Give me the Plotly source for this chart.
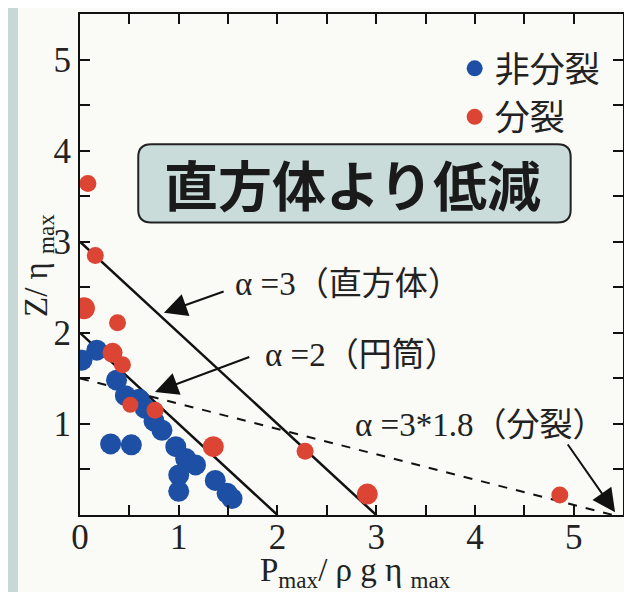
import plotly.graph_objects as go

# ---- data ----
blue_x = [0.02, 0.17, 0.37, 0.46, 0.60, 0.66, 0.75, 0.83, 0.31, 0.52, 0.97, 1.07, 1.17, 1.00, 1.00, 1.37, 1.49, 1.54]
blue_y = [1.70, 1.81, 1.48, 1.31, 1.27, 1.17, 1.03, 0.93, 0.78, 0.77, 0.75, 0.62, 0.55, 0.44, 0.26, 0.38, 0.24, 0.18]

red_x = [0.08, 0.155, 0.04, 0.38, 0.33, 0.43, 0.51, 0.76, 1.35, 2.28, 2.91, 4.86]
red_y = [3.64, 2.85, 2.27, 2.11, 1.78, 1.65, 1.21, 1.15, 0.75, 0.70, 0.23, 0.22]

line3_x = [0, 3]
line3_y = [3, 0]
line2_x = [0, 2]
line2_y = [2, 0]
line54_x = [0, 5.4]
line54_y = [1.5, 0]

x_ticks = [0, 1, 2, 3, 4, 5]
y_ticks = [0, 1, 2, 3, 4, 5]
y_ticklabels = ["", "1", "2", "3", "4", "5"]

legend_names = ["非分裂", "分裂"]

# ---- styles ----
BLUE = "#1d4fa5"
RED = "#dc4433"
red_sizes = [17, 17, 22, 17, 20, 17, 16, 17, 21, 17, 21, 17]
SERIF = "Liberation Serif, Times New Roman, Noto Sans CJK JP, serif"
CJK = "Noto Sans CJK JP, sans-serif"

# page has an 8px body margin: figure sits at (8, 8) in the window
W, H = 624, 584
ML, MR, MT, MB = 72, 9, 6, 77
PW, PH = W - ML - MR, H - MT - MB  # 543 x 501

fig = go.Figure()

fig.add_trace(go.Scatter(x=line3_x, y=line3_y, mode="lines",
                         line=dict(color="#111", width=2.5), showlegend=False, hoverinfo="skip"))
fig.add_trace(go.Scatter(x=line2_x, y=line2_y, mode="lines",
                         line=dict(color="#111", width=2.5), showlegend=False, hoverinfo="skip"))
fig.add_trace(go.Scatter(x=line54_x, y=line54_y, mode="lines",
                         line=dict(color="#111", width=2, dash="dash"), showlegend=False, hoverinfo="skip"))

fig.add_trace(go.Scatter(x=blue_x, y=blue_y, mode="markers", name=legend_names[0],
                         marker=dict(color=BLUE, size=21, opacity=1, line=dict(width=0))))
fig.add_trace(go.Scatter(x=red_x, y=red_y, mode="markers", name=legend_names[1],
                         marker=dict(color=RED, size=red_sizes, opacity=1, line=dict(width=0))))

# rounded box
x0, x1, y0, y1 = 0.59, 4.97, 3.21, 4.07
rx, ry = 0.13, 0.14
path = (f"M {x0+rx},{y1} L {x1-rx},{y1} Q {x1},{y1} {x1},{y1-ry} "
        f"L {x1},{y0+ry} Q {x1},{y0} {x1-rx},{y0} L {x0+rx},{y0} "
        f"Q {x0},{y0} {x0},{y0+ry} L {x0},{y1-ry} Q {x0},{y1} {x0+rx},{y1} Z")
fig.add_shape(type="path", path=path, xref="x", yref="y",
              fillcolor="#c9dcda", line=dict(color="#222", width=2), layer="above")

# left teal strip of the scan
fig.add_shape(type="rect", xref="paper", yref="paper", x0=-ML / PW, x1=-(ML - 10) / PW,
              y0=-MB / PH, y1=1 + MT / PH,
              fillcolor="#c8d8d4", line=dict(width=0), layer="below")

ann = []
ann.append(dict(x=2.76, y=3.64, xref="x", yref="y", text="<b>直方体より低減</b>", showarrow=False,
                font=dict(family=CJK, size=54, color="#1a1a1a", weight=900)))
# arrows
for tip, tail in [((0.85, 2.22), (1.47, 2.46)), ((0.76, 1.35), (1.73, 1.74)), ((5.42, 0.03), (4.93, 0.79))]:
    ann.append(dict(x=tip[0], y=tip[1], ax=tail[0], ay=tail[1], xref="x", yref="y", axref="x", ayref="y",
                    text="", showarrow=True, arrowhead=2, arrowsize=2.3, arrowwidth=2, arrowcolor="#111"))
ann.append(dict(x=1.55, y=2.54, xref="x", yref="y", text="α =3（直方体）", showarrow=False, xanchor="left",
                font=dict(family=SERIF, size=33, color="#222")))
ann.append(dict(x=1.85, y=1.76, xref="x", yref="y", text="α =2（円筒）", showarrow=False, xanchor="left",
                font=dict(family=SERIF, size=33, color="#222")))
ann.append(dict(x=2.77, y=0.99, xref="x", yref="y", text="α =3*1.8（分裂）", showarrow=False, xanchor="left",
                font=dict(family=SERIF, size=33, color="#222")))
# axis titles (window px: x-title centre (355, 572), y-title centre (38, 266))
ann.append(dict(x=(355 - 80) / PW, y=-(572 - 515) / PH, xref="paper", yref="paper",
                xanchor="center", yanchor="middle",
                text="P<sub>max</sub>/ ρ g η <sub>max</sub>", showarrow=False,
                font=dict(family=SERIF, size=33, color="#222")))
ann.append(dict(x=-(80 - 38) / PW, y=(515 - 266) / PH, xref="paper", yref="paper",
                xanchor="center", yanchor="middle",
                text="Z/ η <sub>max</sub>", showarrow=False, textangle=-90,
                font=dict(family=SERIF, size=33, color="#222")))

axis_common = dict(showline=True, linecolor="#111", linewidth=2, mirror="ticks", ticks="inside",
                   ticklen=10, tickwidth=1.5, tickcolor="#111", showgrid=False, zeroline=False,
                   automargin=False,
                   tickfont=dict(family=SERIF, size=35, color="#222"),
                   minor=dict(dtick=0.5, ticks="inside", ticklen=10, tickwidth=1.5, tickcolor="#111", showgrid=False))

fig.update_layout(
    width=W, height=H,
    margin=dict(l=ML, r=MR, t=MT, b=MB, autoexpand=False),
    paper_bgcolor="#fafaf7", plot_bgcolor="#fafaf7",
    showlegend=True,
    legend=dict(x=0.69, y=0.95, xanchor="left", yanchor="top", bgcolor="rgba(0,0,0,0)",
                font=dict(family=CJK, size=35, color="#222"), itemsizing="trace", tracegroupgap=4),
    annotations=ann,
    xaxis=dict(range=[0, 5.5], tickmode="array", tickvals=x_ticks, ticktext=[str(v) for v in x_ticks],
               ticklabelstandoff=-10, **axis_common),
    yaxis=dict(range=[0, 5.5], tickmode="array", tickvals=y_ticks, ticktext=y_ticklabels,
               **axis_common),
)

fig.write_html("out.html")
